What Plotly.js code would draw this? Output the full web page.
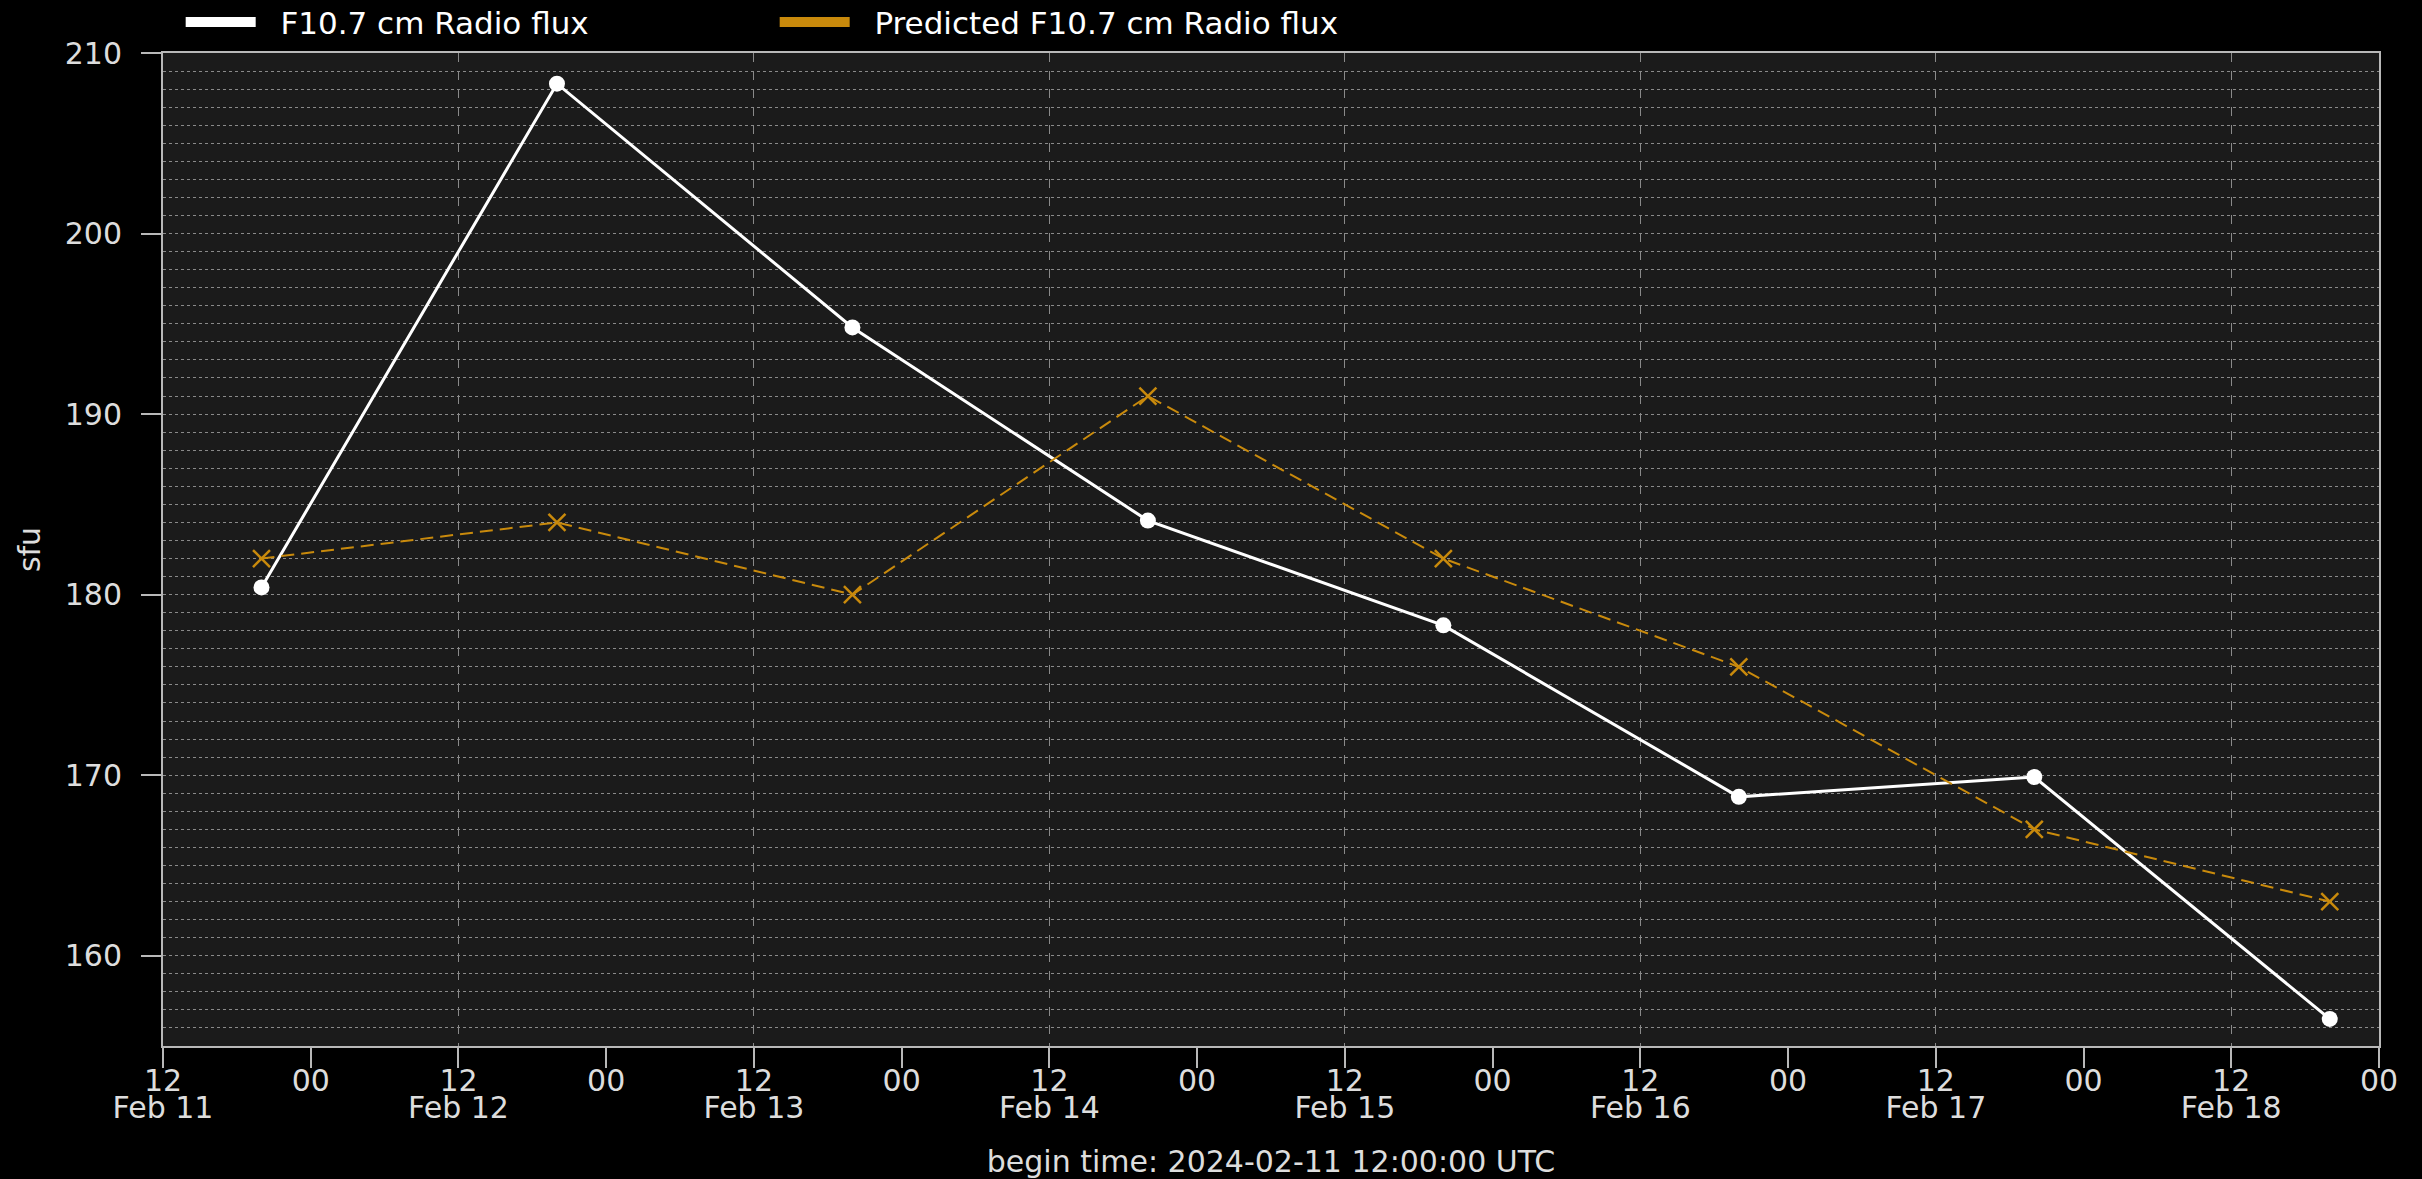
<!DOCTYPE html>
<html>
<head>
<meta charset="utf-8">
<script src="https://cdn.plot.ly/plotly-3.0.1.min.js"></script>
<style>
html, body { margin: 0; padding: 0; background: #000; }
#chart { width: 2422px; height: 1179px; }
</style>
</head>
<body>
<div id="chart"></div>
<script>
const times = ['2024-02-11 20:00', '2024-02-12 20:00', '2024-02-13 20:00', '2024-02-14 20:00',
               '2024-02-15 20:00', '2024-02-16 20:00', '2024-02-17 20:00', '2024-02-18 20:00'];
const observedFlux = [180.4, 208.3, 194.8, 184.1, 178.3, 168.8, 169.9, 156.5];
const predictedFlux = [182, 184, 180, 191, 182, 176, 167, 163];
const seriesNames = ['F10.7 cm Radio flux', 'Predicted F10.7 cm Radio flux'];
const hourTickVals = ['2024-02-11 12:00', '2024-02-12 00:00', '2024-02-12 12:00', '2024-02-13 00:00',
                      '2024-02-13 12:00', '2024-02-14 00:00', '2024-02-14 12:00', '2024-02-15 00:00',
                      '2024-02-15 12:00', '2024-02-16 00:00', '2024-02-16 12:00', '2024-02-17 00:00',
                      '2024-02-17 12:00', '2024-02-18 00:00', '2024-02-18 12:00', '2024-02-19 00:00'];
const hourTickText = ['12', '00', '12', '00', '12', '00', '12', '00',
                      '12', '00', '12', '00', '12', '00', '12', '00'];
const dayTickVals = ['2024-02-11 12:00', '2024-02-12 12:00', '2024-02-13 12:00', '2024-02-14 12:00',
                     '2024-02-15 12:00', '2024-02-16 12:00', '2024-02-17 12:00', '2024-02-18 12:00'];
const dayTickText = ['Feb 11', 'Feb 12', 'Feb 13', 'Feb 14', 'Feb 15', 'Feb 16', 'Feb 17', 'Feb 18'];
const xRange = ['2024-02-11 12:00', '2024-02-19 00:00'];
const yRange = [155, 210];
const xTitle = 'begin time: 2024-02-11 12:00:00 UTC';
const yTitle = 'sfu';

const WHITE = '#ffffff';
const ORANGE = '#c98a0c';
const TEXT = '#dddddd';
const AXIS = '#b8b8b8';
const GRID = '#8a8a8a';
const FONT = 'DejaVu Sans, sans-serif';
const GAP = '\u00a0\u00a0';

const traces = [
  {
    x: times, y: observedFlux, type: 'scatter', mode: 'lines+markers',
    name: seriesNames[0], showlegend: false,
    line: {color: WHITE, width: 3},
    marker: {color: WHITE, size: 16, symbol: 'circle'}
  },
  {
    x: times, y: predictedFlux, type: 'scatter', mode: 'lines+markers',
    name: seriesNames[1], showlegend: false,
    line: {color: ORANGE, width: 2, dash: '13px,7px'},
    marker: {color: ORANGE, size: 17, symbol: 'x-thin-open', line: {color: ORANGE, width: 2.5}}
  },
  // legend entries
  {
    x: [null], y: [null], xaxis: 'x2', type: 'scatter', mode: 'lines', name: GAP + seriesNames[0],
    line: {color: WHITE, width: 11}, hoverinfo: 'skip'
  },
  {
    x: [null], y: [null], xaxis: 'x2', type: 'scatter', mode: 'lines', name: GAP + seriesNames[1],
    line: {color: ORANGE, width: 11}, hoverinfo: 'skip'
  }
];

const layout = {
  width: 2422, height: 1179,
  paper_bgcolor: '#000000',
  plot_bgcolor: '#1b1b1b',
  font: {family: FONT, color: TEXT, size: 30},
  margin: {l: 163, r: 43, t: 53, b: 133, pad: 0},
  showlegend: true,
  legend: {
    orientation: 'h', xref: 'container', x: 0.0746, xanchor: 'left',
    yref: 'container', y: 0.981, yanchor: 'middle',
    font: {family: FONT, color: '#ffffff', size: 31},
    bgcolor: 'rgba(0,0,0,0)', itemwidth: 70,
    entrywidth: 509, entrywidthmode: 'pixels', traceorder: 'normal'
  },
  xaxis: {
    type: 'date', range: xRange,
    tickmode: 'array', tickvals: hourTickVals, ticktext: hourTickText,
    ticks: 'outside', ticklen: 20, tickwidth: 2, tickcolor: AXIS,
    showline: true, linecolor: AXIS, linewidth: 2, mirror: true,
    showgrid: false, zeroline: false,
    minor: {tick0: '2024-02-11 12:00', dtick: 86400000, showgrid: true, griddash: 'dash',
            gridcolor: GRID, gridwidth: 1, ticks: ''},
    tickfont: {family: FONT, color: TEXT, size: 30},
    ticklabelstandoff: -13,
    title: {text: xTitle, font: {family: FONT, color: TEXT, size: 30}, standoff: 66}
  },
  xaxis2: {
    type: 'date', overlaying: 'x', matches: 'x', anchor: 'y', side: 'bottom',
    tickmode: 'array', tickvals: dayTickVals, ticktext: dayTickText,
    ticks: '', showline: false, showgrid: false, zeroline: false,
    tickfont: {family: FONT, color: TEXT, size: 30},
    ticklabelstandoff: 41
  },
  yaxis: {
    range: yRange, tickmode: 'linear', tick0: 160, dtick: 10,
    ticks: 'outside', ticklen: 20, tickwidth: 2, tickcolor: AXIS,
    showline: true, linecolor: AXIS, linewidth: 2, mirror: true,
    showgrid: true, gridcolor: GRID, gridwidth: 1, griddash: 'dot', zeroline: false,
    minor: {dtick: 1, showgrid: true, griddash: 'dot', gridcolor: GRID, gridwidth: 1, ticks: ''},
    tickfont: {family: FONT, color: TEXT, size: 30},
    ticklabelstandoff: 13,
    title: {text: yTitle, font: {family: FONT, color: TEXT, size: 30}, standoff: 15}
  }
};

Plotly.newPlot('chart', traces, layout, {displayModeBar: false, staticPlot: true});
</script>
</body>
</html>
